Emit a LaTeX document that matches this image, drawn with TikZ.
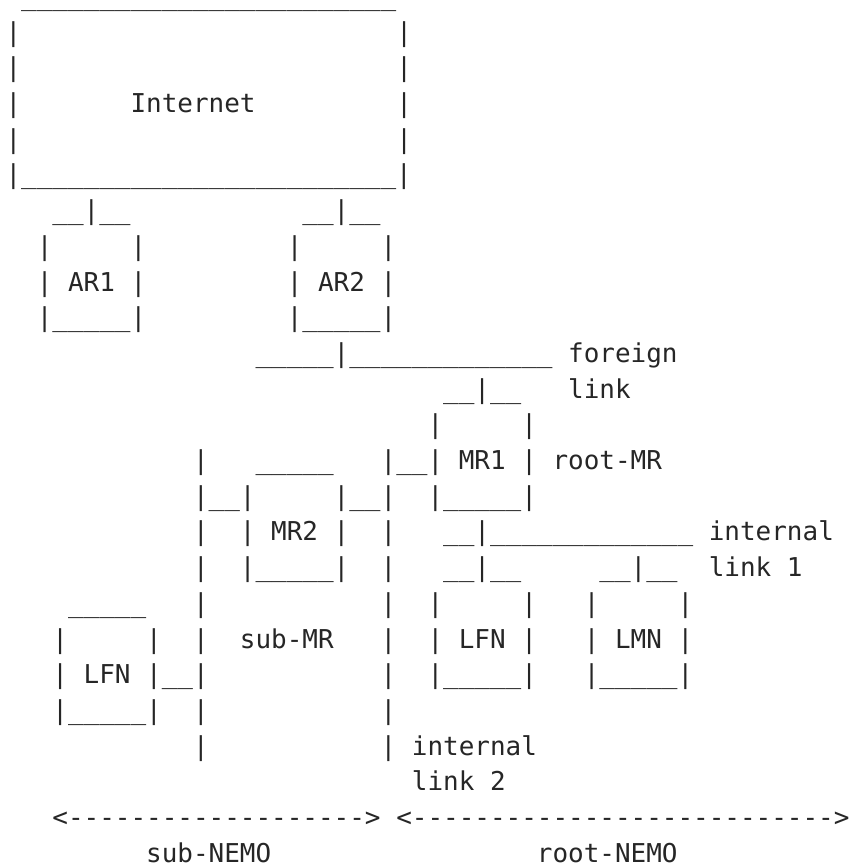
\documentclass[tikz,border=0pt]{standalone}
\usepackage{fontspec}
\newfontfamily\asciifont{DejaVu Sans Mono}[Ligatures=TeXOff]
\definecolor{ink}{HTML}{262626}
\ExplSyntaxOn
\cs_new:Npn \asciirep #1#2 { \prg_replicate:nn {#1} {#2} }
\ExplSyntaxOff
\tikzset{asc/.style={anchor=base west, inner sep=0pt, outer sep=0pt, text=ink,
  font=\asciifont\fontsize{25.96pt}{31pt}\selectfont}}
% \seg{row}{column}{text}
\newcommand{\seg}[3]{\node[asc] (s-#1-#2) at ({5.5+15.63*#2},{861.5-35.7*#1}) {#3};}
\begin{document}
\begin{tikzpicture}[x=1pt,y=1pt]
\useasboundingbox (0,0) rectangle (849,867);
% Internet box
\seg{0}{1}{\asciirep{24}{\_}}
\seg{1}{0}{|}\seg{1}{25}{|}
\seg{2}{0}{|}\seg{2}{25}{|}
\seg{3}{0}{|}\seg{3}{8}{Internet}\seg{3}{25}{|}
\seg{4}{0}{|}\seg{4}{25}{|}
\seg{5}{0}{|\asciirep{24}{\_}|}
% AR1, AR2
\seg{6}{3}{\_\_|\_\_}\seg{6}{19}{\_\_|\_\_}
\seg{7}{2}{|}\seg{7}{8}{|}\seg{7}{18}{|}\seg{7}{24}{|}
\seg{8}{2}{| AR1 |}\seg{8}{18}{| AR2 |}
\seg{9}{2}{|\asciirep{5}{\_}|}\seg{9}{18}{|\asciirep{5}{\_}|}
% foreign link
\seg{10}{16}{\asciirep{5}{\_}|\asciirep{13}{\_}}\seg{10}{36}{foreign}
\seg{11}{28}{\_\_|\_\_}\seg{11}{36}{link}
\seg{12}{27}{|}\seg{12}{33}{|}
\seg{13}{12}{|}\seg{13}{16}{\asciirep{5}{\_}}\seg{13}{24}{|\_\_| MR1 | root-MR}
\seg{14}{12}{|\_\_|}\seg{14}{21}{|\_\_|}\seg{14}{27}{|\asciirep{5}{\_}|}
% internal link 1
\seg{15}{12}{|}\seg{15}{15}{| MR2 |}\seg{15}{24}{|}\seg{15}{28}{\_\_|\asciirep{13}{\_}}\seg{15}{45}{internal}
\seg{16}{12}{|}\seg{16}{15}{|\asciirep{5}{\_}|}\seg{16}{24}{|}\seg{16}{28}{\_\_|\_\_}\seg{16}{38}{\_\_|\_\_}\seg{16}{45}{link 1}
\seg{17}{4}{\asciirep{5}{\_}}\seg{17}{12}{|}\seg{17}{24}{|}\seg{17}{27}{|}\seg{17}{33}{|}\seg{17}{37}{|}\seg{17}{43}{|}
\seg{18}{3}{|}\seg{18}{9}{|}\seg{18}{12}{|}\seg{18}{15}{sub-MR}\seg{18}{24}{|}\seg{18}{27}{| LFN |}\seg{18}{37}{| LMN |}
\seg{19}{3}{| LFN |\_\_|}\seg{19}{24}{|}\seg{19}{27}{|\asciirep{5}{\_}|}\seg{19}{37}{|\asciirep{5}{\_}|}
\seg{20}{3}{|\asciirep{5}{\_}|}\seg{20}{12}{|}\seg{20}{24}{|}
% internal link 2
\seg{21}{12}{|}\seg{21}{24}{| internal}
\seg{22}{26}{link 2}
% extents
\seg{23}{3}{<\asciirep{19}{-}>}\seg{23}{25}{<\asciirep{27}{-}>}
\seg{24}{9}{sub-NEMO}\seg{24}{34}{root-NEMO}
\end{tikzpicture}
\end{document}
